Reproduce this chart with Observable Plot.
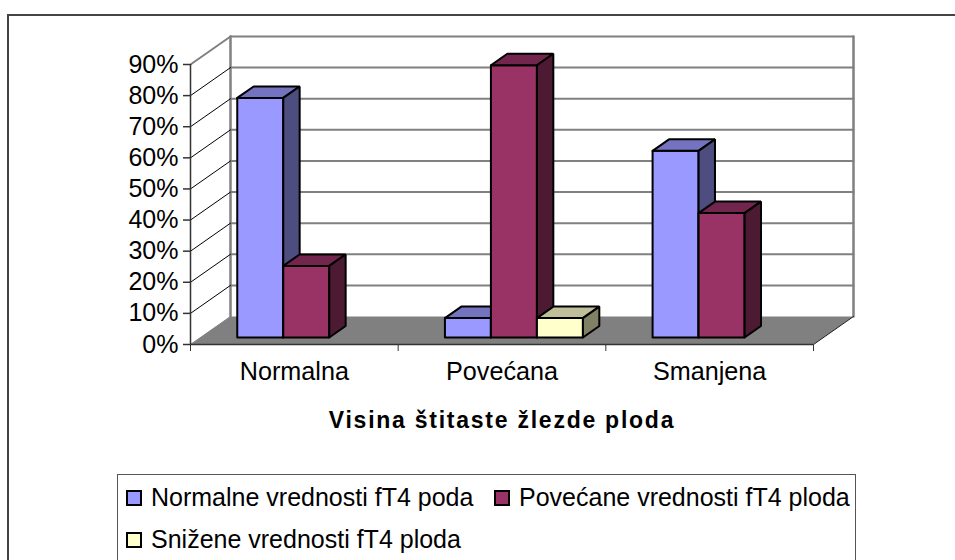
<!DOCTYPE html>
<html>
<head>
<meta charset="utf-8">
<script src="https://cdn.jsdelivr.net/npm/d3@7"></script>
<script src="https://cdn.jsdelivr.net/npm/@observablehq/plot@0.6"></script>
<style>
html,body{margin:0;padding:0;background:#fff;width:955px;height:560px;overflow:hidden;font-family:"Liberation Sans",Arial,sans-serif;color:#000}
#chart{position:absolute;left:0;top:0}
#chart svg g[aria-label="text"] text{letter-spacing:1.75px}
#frame{position:absolute;left:7px;top:14px;width:1000px;height:600px;border:2px solid #444;box-sizing:border-box}
#legend{position:absolute;left:117px;top:474px;width:739px;height:120px;border:1px solid #555;box-sizing:border-box;font-size:25px;line-height:28px}
.item{position:absolute;white-space:nowrap}
.sw{position:absolute;width:12px;height:12px;border:2px solid #000;box-sizing:content-box;top:7px;left:-25px}
</style>
</head>
<body>
<div id="frame"></div>
<div id="chart"></div>
<div id="legend"></div>
<script>
const categories = ["Normalna", "Povećana", "Smanjena"];
const seriesNames = ["Normalne vrednosti fT4 poda", "Povećane vrednosti fT4 ploda", "Snižene vrednosti fT4 ploda"];
const normalne = [77, 6.25, 60];
const povecane = [23, 87.5, 40];
const snizene = [null, 6.25, null];
const yTicks = [0, 10, 20, 30, 40, 50, 60, 70, 80, 90];
const frontColors = ["#9999FF", "#993366", "#FFFFCC"];
const topColors = ["#7373BF", "#73264D", "#BFBF99"];
const sideColors = ["#4D4D80", "#4D1A33", "#808066"];
const axisTitle = "Visina štitaste žlezde ploda";

// oblique projection, in data units: one unit of depth moves x and y by this much
const depthX = 0.1926, depthY = 9;
const project = (x, v, t) => ({x: x + t * depthX, y: v + t * depthY});
const barStart = 0.177, slot = 0.2215, t0 = 0.25, t1 = 0.66;

const series = [normalne, povecane, snizene];
const polys = [];
let polyId = 0;
function poly(points, fill) {
  const id = polyId++;
  [...points, points[0]].forEach(p => polys.push({...p, id, fill}));
}
categories.forEach((c, i) => {
  series.forEach((vals, s) => {
    const v = vals[i];
    if (v == null) return;
    const a = i + barStart + s * slot, b = a + slot;
    poly([project(a, 0, t0), project(b, 0, t0), project(b, v, t0), project(a, v, t0)], frontColors[s]);
    poly([project(a, v, t0), project(b, v, t0), project(b, v, t1), project(a, v, t1)], topColors[s]);
    poly([project(b, 0, t0), project(b, 0, t1), project(b, v, t1), project(b, v, t0)], sideColors[s]);
  });
});
const n = categories.length, maxY = yTicks[yTicks.length - 1];
const floor = [project(0, 0, 0), project(n, 0, 0), project(n, 0, 1), project(0, 0, 1), project(0, 0, 0)];
const gridBack = yTicks.slice(1).flatMap(v => [
  {...project(0, v, 1), v}, {...project(n, v, 1), v}
]);
const gridSide = yTicks.slice(1, -1).flatMap(v => [
  {...project(0, v, 0), v}, {...project(0, v, 1), v}
]);
const wallEdges = [0, n].flatMap(x => [
  {...project(x, 0, 1), x0: x}, {...project(x, maxY, 1), x0: x}
]);
const topEdge = [project(0, maxY, 0), project(0, maxY, 1)];
const rightEdge = [project(n, 0, 0), project(n, 0, 1)];
const leftFloor = [project(0, 0, 0), project(0, 0, 1)];

const chart = Plot.plot({
  width: 955, height: 560,
  marginLeft: 190, marginRight: 142, marginTop: 64, marginBottom: 216,
  style: {background: "transparent", fontFamily: "'Liberation Sans',Arial,sans-serif", color: "#000"},
  x: {domain: [0, n]},
  y: {domain: [0, maxY]},
  color: {type: "identity"},
  marks: [
    Plot.line(gridBack, {x: "x", y: "y", z: "v", stroke: "#808080", strokeWidth: 2}),
    Plot.line(wallEdges, {x: "x", y: "y", z: "x0", stroke: "#808080", strokeWidth: 2.5}),
    Plot.line(topEdge, {x: "x", y: "y", stroke: "#808080", strokeWidth: 2}),
    Plot.line(gridSide, {x: "x", y: "y", z: "v", stroke: "#000", strokeWidth: 1}),
    Plot.line(floor, {x: "x", y: "y", fill: "#808080", stroke: "none"}),
    Plot.line(rightEdge, {x: "x", y: "y", stroke: "#222", strokeWidth: 1}),
    Plot.line(leftFloor, {x: "x", y: "y", stroke: "#808080", strokeWidth: 1}),
    Plot.line(polys, {x: "x", y: "y", z: "id", fill: "fill", stroke: "#000", strokeWidth: 2, strokeLinejoin: "miter"}),
    Plot.ruleX([0], {y1: 0, y2: maxY, stroke: "#333", strokeWidth: 1.5}),
    Plot.ruleY([0], {x1: 0, x2: n, stroke: "#333", strokeWidth: 1.5}),
    Plot.axisY({ticks: yTicks, tickSize: 7, tickPadding: 5, tickFormat: d => d + "%", fontSize: 25, stroke: "#333", strokeWidth: 1.5, label: null}),
    Plot.ruleX(d3.range(n + 1), {x: d => d, y1: 0, y2: 0, insetBottom: -7, stroke: "#333", strokeWidth: 1}),
    Plot.axisX(d3.range(n).map(i => i + 0.5), {tickSize: 0, tickPadding: 18, tickFormat: d => categories[d - 0.5], fontSize: 25.2, label: null}),
    Plot.text([axisTitle], {x: n / 2, y: 0, dy: 76, text: d => d, fontSize: 23, fontWeight: "bold", fill: "#000"})
  ]
});
document.getElementById("chart").append(chart);

const legend = document.getElementById("legend");
const pos = [[33, 8], [401, 8], [33, 50]];
seriesNames.forEach((name, i) => {
  const it = document.createElement("div");
  it.className = "item";
  it.style.left = pos[i][0] + "px";
  it.style.top = pos[i][1] + "px";
  it.textContent = name;
  const sw = document.createElement("span");
  sw.className = "sw";
  sw.style.background = frontColors[i];
  it.append(sw);
  legend.append(it);
});
</script>
</body>
</html>
